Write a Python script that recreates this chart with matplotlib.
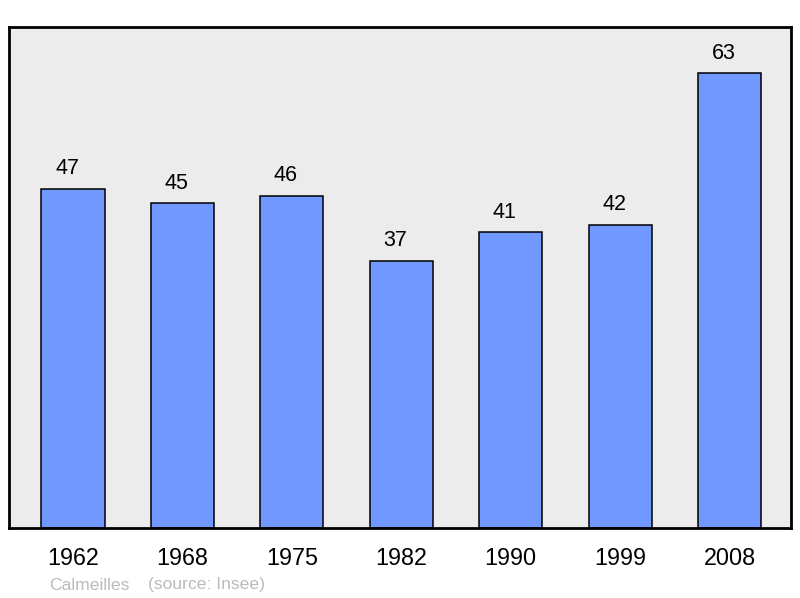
import matplotlib.pyplot as plt

plt.rcParams['font.family'] = ['Liberation Sans', 'DejaVu Sans']

years = ['1962', '1968', '1975', '1982', '1990', '1999', '2008']
population = [47, 45, 46, 37, 41, 42, 63]

fig = plt.figure(figsize=(8, 5.98), dpi=100)
ax = fig.add_axes([9 / 800, 1 - 528 / 598, 782 / 800, 501 / 598])
ax.set_facecolor('#ececec')

x = range(len(years))
bars = ax.bar(x, population, width=0.576, color='#7098ff', edgecolor='black', linewidth=1.1, zorder=2)
for b, v in zip(bars, population):
    # labels sit a bit left of the bar centre in the original
    ax.annotate(str(v), (b.get_x() + b.get_width() / 2, v), xytext=(-4.3, 6.8),
                textcoords='offset points', ha='center', va='bottom', fontsize=15.5)

ax.set_xlim(-0.585, 6.562)
ax.set_ylim(0, 69.4)
ax.set_xticks(list(x))
ax.set_xticklabels(years, fontsize=16.8)
ax.tick_params(axis='x', length=0, pad=13.5)
ax.set_yticks([])
for s in ax.spines.values():
    s.set_linewidth(2)

fig.text(49 / 800, 1 - 585 / 598, 'Calmeilles', color='#bbbbbb', fontsize=12.6, va='center')
fig.text(148 / 800, 1 - 585 / 598, '(source: Insee)', color='#bbbbbb', fontsize=12.6, va='center')

fig.savefig('out.png', dpi=100)
